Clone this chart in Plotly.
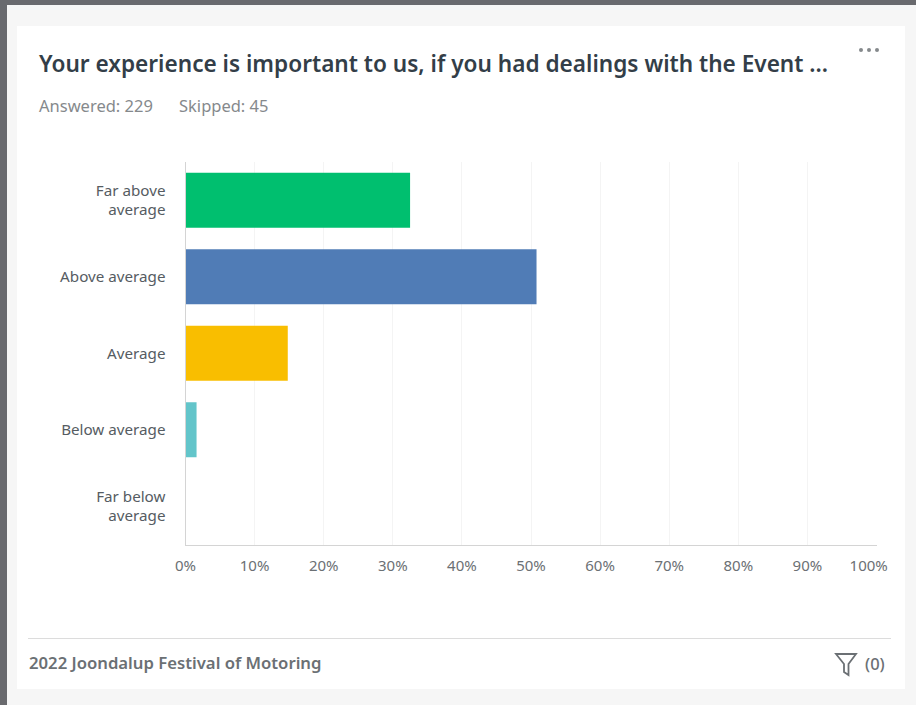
import plotly.graph_objects as go

categories = ["Far above<br>average", "Above average", "Average", "Below average", "Far below<br>average"]
percent_values = [32.5, 50.8, 14.8, 1.6, 0]
bar_colors = ["#00bf6f", "#507cb6", "#f9be00", "#63c5ca", "#dddddd"]
x_ticks = list(range(0, 101, 10))
x_tick_labels = [f"{t}%" for t in x_ticks]
x_tick_labels[-1] = "100%\u00a0\u00a0\u00a0\u00a0"

W, H = 916, 705
FONT = "Noto Sans"


def px(x):
    return x / W


def py(y):
    return 1 - y / H


fig = go.Figure(
    go.Bar(
        y=categories,
        x=percent_values,
        orientation="h",
        marker=dict(color=bar_colors, line=dict(width=0)),
        width=0.72,
        hoverinfo="x+y",
    )
)


def rect(x0, y0, x1, y1, color, layer="below"):
    return dict(type="rect", xref="paper", yref="paper", x0=px(x0), x1=px(x1), y0=py(y0), y1=py(y1),
                fillcolor=color, line=dict(width=0), layer=layer)


def dot(cx, cy, r, color):
    return dict(type="circle", xref="paper", yref="paper", x0=px(cx - r), x1=px(cx + r), y0=py(cy + r), y1=py(cy - r),
                fillcolor=color, line=dict(width=0))


def text(x, y, s, size, color, anchor="left", weight=400):
    return dict(xref="paper", yref="paper", x=px(x), y=py(y), text=s, showarrow=False,
                xanchor=anchor, yanchor="middle", align=anchor,
                font=dict(family=FONT, size=size, color=color, weight=weight))


funnel = "M {} {} L {} {} L {} {} L {} {} L {} {} L {} {} Z".format(
    px(836), py(654), px(856), py(654), px(848.5), py(664), px(848.5), py(675), px(844), py(672), px(844), py(664)
)

fig.update_layout(
    width=W, height=H, autosize=False,
    margin=dict(l=0, r=0, t=0, b=0, pad=0, autoexpand=False),
    paper_bgcolor="#f6f6f6",
    plot_bgcolor="#ffffff",
    showlegend=False,
    xaxis=dict(
        domain=[px(185.5), px(876.5)], range=[0, 100], tickvals=x_ticks, ticktext=x_tick_labels,
        showgrid=True, gridcolor="#f4f4f4", gridwidth=1, zeroline=False,
        showline=True, linecolor="#d4d4d4", linewidth=1, ticks="", ticklabelstandoff=7,
        tickfont=dict(family=FONT, size=15, color="#6b7074"), fixedrange=True,
    ),
    yaxis=dict(
        domain=[py(544.5), py(162)], autorange="reversed", showgrid=False, zeroline=False,
        showline=True, linecolor="#d4d4d4", linewidth=1, ticks="", ticklabelstandoff=16,
        tickfont=dict(family=FONT, size=15.2, color="#565c62"), fixedrange=True,
    ),
    shapes=[
        rect(0, 0, W, 5, "#696a6e"),
        rect(0, 0, 7, H, "#696a6e"),
        rect(17, 26, 905, 689, "#ffffff"),
        dict(type="line", xref="paper", yref="paper", x0=px(28), x1=px(891), y0=py(638.5), y1=py(638.5),
             line=dict(color="#dcdcdc", width=1)),
        dict(type="path", xref="paper", yref="paper", path=funnel, line=dict(color="#6b7074", width=1.8),
             fillcolor="rgba(0,0,0,0)"),
        dot(861, 50, 2, "#85898c"),
        dot(869, 50, 2, "#85898c"),
        dot(877, 50, 2, "#85898c"),
    ],
    annotations=[
        text(36.5, 63.5, "Your experience is important to us, if you had dealings with the Event ...", 22.6, "#333e48", weight=600),
        text(36.5, 105.5, "Answered: 229", 16.5, "#85898c"),
        text(177, 105.5, "Skipped: 45", 16.5, "#85898c"),
        text(26.5, 662.5, "2022 Joondalup Festival of Motoring", 16.7, "#6b7074", weight=600),
        text(874.5, 663, "(0)", 16.5, "#6b7074", anchor="center", weight=500),
    ],
)

fig.write_html("out.html", config={"displayModeBar": False},
               post_script="document.body.style.margin='0';")
